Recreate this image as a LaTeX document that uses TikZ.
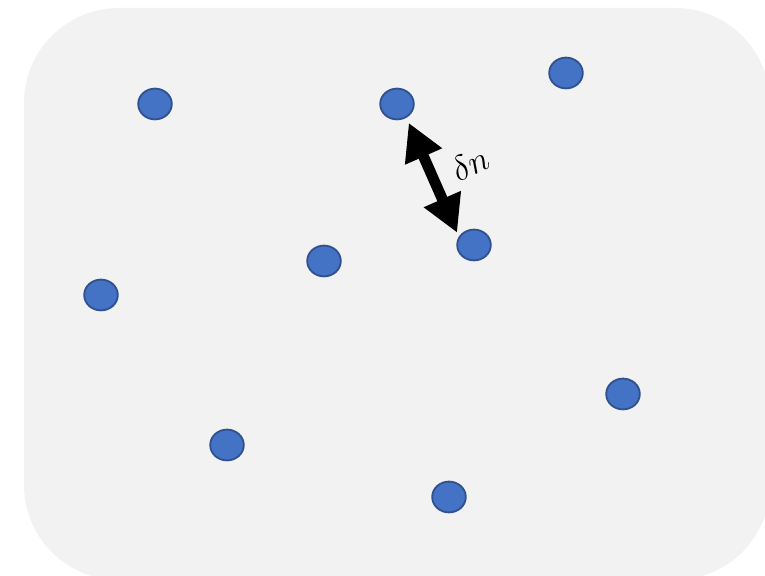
\documentclass[tikz,border=0pt]{standalone}
\usepackage{amsmath,amssymb}
\usepackage{tikz}
\usetikzlibrary{arrows.meta,positioning,shapes.geometric}
\definecolor{pointblue}{RGB}{68,114,196}
\definecolor{pointedge}{RGB}{47,82,143}
\definecolor{panelgray}{RGB}{242,242,242}

\begin{document}
\begin{tikzpicture}[
    point/.style={ellipse, fill=pointblue, draw=pointedge, line width=1.3pt,
                  minimum width=0.84cm, minimum height=0.77cm, inner sep=0pt}]
    \useasboundingbox (0,0) rectangle (19.125,14.4);
    \clip (0,0) rectangle (19.125,14.4);

    % Background
    \fill[panelgray, rounded corners=2.375cm] (0.6,-0.1) rectangle (19.25,14.2);

    % Points
    \node[point] (p1) at (3.875,11.8) {};
    \node[point] (p2) at (9.925,11.8) {};
    \node[point] (p3) at (14.15,12.575) {};
    \node[point] (p4) at (11.85,8.275) {};
    \node[point] (p5) at (8.1,7.875) {};
    \node[point] (p6) at (2.525,7.025) {};
    \node[point] (p7) at (15.575,4.55) {};
    \node[point] (p8) at (5.675,3.275) {};
    \node[point] (p9) at (11.225,1.975) {};

    % Separation
    \draw[line width=0.27cm, {Triangle[length=0.92cm,width=0.95cm]}-{Triangle[length=0.92cm,width=0.95cm]},
          shorten <=0.2cm, shorten >=0.02cm] ([xshift=-0.1cm]p2.south east) -- ([xshift=-0.1cm]p4.north west);
    \node[rotate=25, font=\fontsize{25}{29}\selectfont] (dn) at (11.75,10.3) {$\delta n$};
\end{tikzpicture}
\end{document}
